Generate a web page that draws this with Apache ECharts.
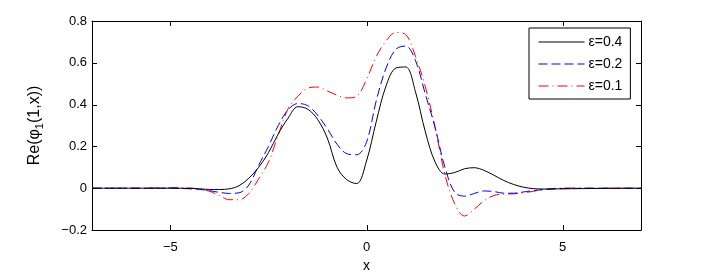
<!DOCTYPE html>
<html>
<head>
<meta charset="utf-8">
<script src="https://cdn.jsdelivr.net/npm/echarts@6/dist/echarts.min.js"></script>
<style>html,body{margin:0;padding:0;background:#fff}#c{width:708px;height:273px}</style>
</head>
<body>
<div id="c"></div>
<script>
// x positions
const xs = [-7, -6, -5, -4.5, -4.25, -4, -3.75, -3.5, -3.25, -3, -2.75, -2.5, -2.25, -2, -1.75, -1.5, -1.25, -1, -0.75, -0.5, -0.25, 0, 0.25, 0.5, 0.75, 1, 1.25, 1.5, 1.75, 2, 2.25, 2.5, 2.75, 3, 3.25, 3.5, 3.75, 4, 4.25, 4.5, 5, 6, 7];
// ε=0.4 (black solid)
const eps04 = [0, 0, 0, -0.001, -0.003, -0.006, -0.006, -0.003, 0.012, 0.048, 0.1, 0.17, 0.26, 0.335, 0.39, 0.378, 0.33, 0.24, 0.1, 0.04, 0.022, 0.13, 0.32, 0.49, 0.575, 0.58, 0.46, 0.27, 0.125, 0.068, 0.075, 0.093, 0.098, 0.085, 0.062, 0.037, 0.018, 0.005, -0.002, -0.004, -0.003, -0.001, 0];
// ε=0.2 (blue dashed)
const eps02 = [0, 0, 0, -0.003, -0.006, -0.012, -0.02, -0.025, -0.022, 0.015, 0.11, 0.2, 0.3, 0.375, 0.405, 0.395, 0.35, 0.285, 0.21, 0.165, 0.16, 0.22, 0.42, 0.575, 0.665, 0.68, 0.61, 0.45, 0.29, 0.1, -0.02, -0.038, -0.025, -0.013, -0.016, -0.024, -0.024, -0.018, -0.012, -0.007, -0.002, 0, 0];
// ε=0.1 (red dash-dot)
const eps01 = [0, 0, 0.002, 0.001, -0.005, -0.015, -0.035, -0.055, -0.055, -0.025, 0.045, 0.125, 0.255, 0.38, 0.44, 0.478, 0.484, 0.465, 0.445, 0.432, 0.44, 0.52, 0.63, 0.705, 0.745, 0.735, 0.63, 0.485, 0.29, 0.065, -0.075, -0.133, -0.1, -0.06, -0.035, -0.028, -0.027, -0.022, -0.015, -0.007, 0.001, 0, 0];
const seriesNames = ['ε=0.4', 'ε=0.2', 'ε=0.1'];
const xTicks = [-5, 0, 5];
const yTicks = [-0.2, 0, 0.2, 0.4, 0.6, 0.8];

const FONT = '"Liberation Sans", Arial, Helvetica, sans-serif';
const fmtNum = v => {
  const s = Math.abs(v) < 1e-9 ? '0' : (Math.round(v*10)/10).toString();
  return s.replace('-', '\u2212');
};
const pairs = ys => xs.map((x, i) => [x, ys[i]]);
const TL = 5; // tick length (inward)

const chart = echarts.init(document.getElementById('c'), null, {renderer: 'canvas'});
const axisLine = {show: true, onZero: false, lineStyle: {color: '#000', width: 1}};

// inward tick marks on both opposite edges, placed through the axis scales
const xTickSeries = {
  type: 'custom', name: 'xticks', xAxisIndex: 0, yAxisIndex: 0, silent: true, clip: false, z: 10,
  data: xTicks.map(v => [v, 0]), encode: {x: 0, y: 1},
  renderItem: (params, api) => {
    const cs = params.coordSys;
    const px = Math.round(api.coord([api.value(0), 0])[0]) + 0.5;
    const bottom = cs.y + cs.height, top = cs.y;
    return {type: 'group', children: [
      {type: 'line', shape: {x1: px, y1: bottom, x2: px, y2: bottom - TL}, style: {stroke: '#000', lineWidth: 1}},
      {type: 'line', shape: {x1: px, y1: top, x2: px, y2: top + TL}, style: {stroke: '#000', lineWidth: 1}}
    ]};
  }
};
const yTickSeries = {
  type: 'custom', name: 'yticks', xAxisIndex: 0, yAxisIndex: 0, silent: true, clip: false, z: 10,
  data: yTicks.map(v => [0, v]), encode: {x: 0, y: 1},
  renderItem: (params, api) => {
    const cs = params.coordSys;
    const py = Math.round(api.coord([0, api.value(1)])[1]) + 0.5;
    const left = cs.x, right = cs.x + cs.width;
    return {type: 'group', children: [
      {type: 'line', shape: {x1: left, y1: py, x2: left + TL, y2: py}, style: {stroke: '#000', lineWidth: 1}},
      {type: 'line', shape: {x1: right, y1: py, x2: right - TL, y2: py}, style: {stroke: '#000', lineWidth: 1}}
    ]};
  }
};

chart.setOption({
  animation: false,
  backgroundColor: '#fff',
  grid: {left: 92, right: 67, top: 21, bottom: 43, containLabel: false, outerBoundsMode: 'none'},
  xAxis: [
    {
      type: 'value', min: -7, max: 7, position: 'bottom', splitLine: {show: false},
      axisLine: axisLine,
      axisTick: {show: false},
      axisLabel: {show: true, customValues: xTicks, formatter: fmtNum, margin: 11, color: '#000', fontSize: 13, fontFamily: FONT},
      name: 'x', nameLocation: 'middle', nameGap: 28,
      nameTextStyle: {color: '#000', fontSize: 14, fontFamily: FONT}
    },
    {
      type: 'value', min: -7, max: 7, position: 'top', splitLine: {show: false},
      axisLine: axisLine, axisTick: {show: false}, axisLabel: {show: false}
    }
  ],
  yAxis: [
    {
      type: 'value', min: -0.2, max: 0.8, interval: 0.2, position: 'left', splitLine: {show: false},
      axisLine: axisLine,
      axisTick: {show: false},
      axisLabel: {show: true, formatter: fmtNum, margin: 5, color: '#000', fontSize: 13, fontFamily: FONT},
      name: '{a|Re(φ}{s|1}{a|(1,x))}', nameLocation: 'middle', nameGap: 47,
      nameTextStyle: {color: '#000', fontFamily: FONT, rich: {
        a: {fontSize: 16, fontFamily: FONT, color: '#000', lineHeight: 20},
        s: {fontSize: 11, fontFamily: FONT, color: '#000', padding: [10, 0, 0, 0]}
      }}
    },
    {
      type: 'value', min: -0.2, max: 0.8, interval: 0.2, position: 'right', splitLine: {show: false},
      axisLine: axisLine, axisTick: {show: false}, axisLabel: {show: false}
    }
  ],
  legend: {
    data: seriesNames,
    orient: 'vertical',
    left: 529, top: 28,
    width: 105,
    padding: [7, 8, 6, 9],
    itemGap: 8,
    itemWidth: 46, itemHeight: 14,
    backgroundColor: '#fff',
    borderColor: '#000', borderWidth: 1, borderRadius: 0,
    itemStyle: {opacity: 0, borderWidth: 0},
    lineStyle: {width: 1},
    textStyle: {color: '#000', fontSize: 14, fontFamily: FONT, padding: [0, 0, 0, -1]},
    selectedMode: false
  },
  series: [
    {name: seriesNames[0], type: 'line', xAxisIndex: 0, yAxisIndex: 0, data: pairs(eps04), smooth: 0.35, symbol: 'none', showSymbol: false,
     lineStyle: {color: '#000', width: 1, type: 'solid'}, itemStyle: {color: '#000'}, z: 3},
    {name: seriesNames[1], type: 'line', xAxisIndex: 0, yAxisIndex: 0, data: pairs(eps02), smooth: 0.35, symbol: 'none', showSymbol: false,
     lineStyle: {color: '#0000ff', width: 1, type: [9, 4]}, itemStyle: {color: '#0000ff'}, z: 2},
    {name: seriesNames[2], type: 'line', xAxisIndex: 0, yAxisIndex: 0, data: pairs(eps01), smooth: 0.35, symbol: 'none', showSymbol: false,
     lineStyle: {color: '#ff0000', width: 1, type: [10, 4, 1, 4]}, itemStyle: {color: '#ff0000'}, z: 1},
    xTickSeries,
    yTickSeries
  ]
});
</script>
</body>
</html>
